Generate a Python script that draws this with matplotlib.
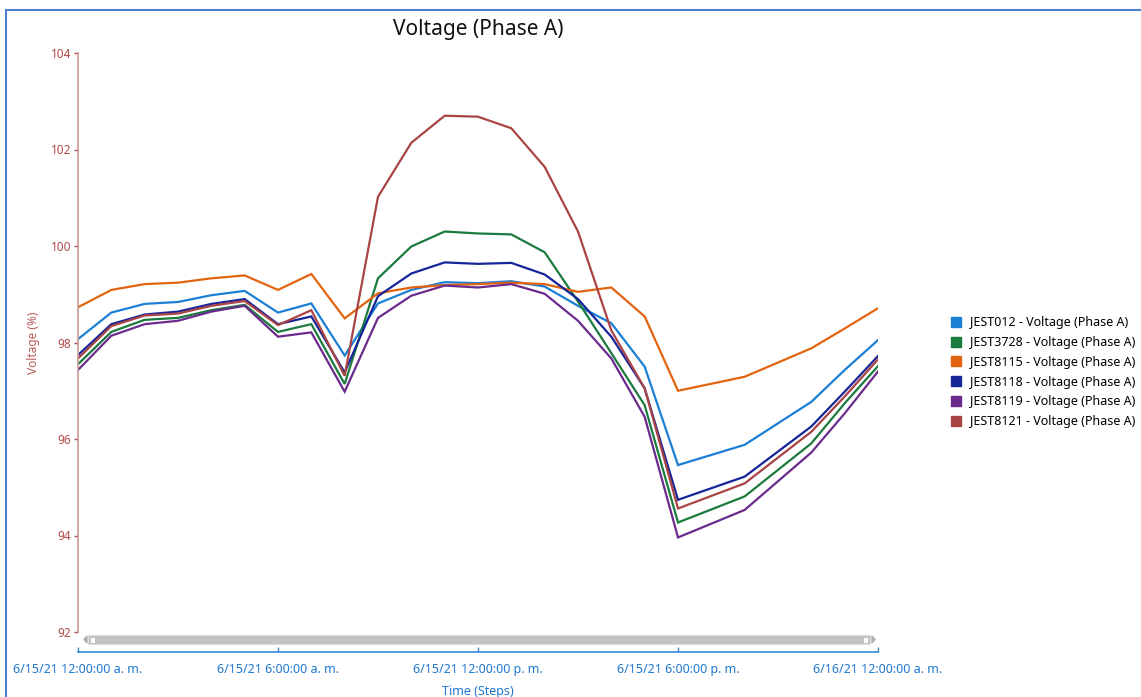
import matplotlib
matplotlib.use("Agg")
import matplotlib.pyplot as plt
from matplotlib.lines import Line2D
from matplotlib.patches import Rectangle, Polygon

plt.rcParams['font.family'] = ['Noto Sans', 'DejaVu Sans']

# hourly steps (no samples at 19h and 21h)
hours = [0, 1, 2, 3, 4, 5, 6, 7, 8, 9, 10, 11, 12, 13, 14, 15, 16, 17, 18, 20, 22, 23, 24]

jest012 = [98.07, 98.62, 98.80, 98.84, 98.98, 99.07, 98.62, 98.81, 97.73, 98.81, 99.09, 99.25,
           99.23, 99.27, 99.16, 98.76, 98.40, 97.50, 95.46, 95.88, 96.77, 97.43, 98.05]
jest3728 = [97.55, 98.22, 98.47, 98.51, 98.67, 98.78, 98.22, 98.38, 97.14, 99.33, 99.99, 100.30,
            100.26, 100.24, 99.87, 98.85, 97.78, 96.70, 94.27, 94.81, 95.91, 96.74, 97.51]
jest8115 = [98.73, 99.09, 99.21, 99.24, 99.33, 99.39, 99.09, 99.42, 98.50, 99.02, 99.14, 99.19,
            99.21, 99.24, 99.21, 99.05, 99.14, 98.54, 97.00, 97.29, 97.88, 98.29, 98.71]
jest8118 = [97.74, 98.38, 98.58, 98.64, 98.80, 98.90, 98.38, 98.54, 97.38, 98.96, 99.43, 99.66,
            99.63, 99.65, 99.41, 98.90, 98.12, 97.05, 94.74, 95.22, 96.26, 96.98, 97.72]
jest8119 = [97.43, 98.14, 98.38, 98.45, 98.64, 98.76, 98.12, 98.21, 96.98, 98.51, 98.97, 99.18,
            99.14, 99.21, 99.01, 98.45, 97.67, 96.46, 93.96, 94.53, 95.72, 96.53, 97.40]
jest8121 = [97.67, 98.34, 98.56, 98.60, 98.76, 98.86, 98.36, 98.67, 97.31, 101.02, 102.14, 102.70,
            102.68, 102.44, 101.64, 100.30, 98.25, 97.05, 94.56, 95.08, 96.15, 96.88, 97.65]

series_names = ['JEST012 - Voltage (Phase A)', 'JEST3728 - Voltage (Phase A)',
                'JEST8115 - Voltage (Phase A)', 'JEST8118 - Voltage (Phase A)',
                'JEST8119 - Voltage (Phase A)', 'JEST8121 - Voltage (Phase A)']
series_values = [jest012, jest3728, jest8115, jest8118, jest8119, jest8121]
colors = ['#1b7fd6', '#1b7a3e', '#e2640f', '#17259a', '#6b2b8c', '#aa4444']

xticks = [0, 6, 12, 18, 24]
xtick_labels = ['6/15/21 12:00:00 a. m.', '6/15/21 6:00:00 a. m.', '6/15/21 12:00:00 p. m.',
                '6/15/21 6:00:00 p. m.', '6/16/21 12:00:00 a. m.']
yticks = [92, 94, 96, 98, 100, 102, 104]

W, H = 1141, 697
fig = plt.figure(figsize=(W / 100, H / 100), dpi=100, facecolor='white')
ax = fig.add_axes([78 / W, 1 - 632 / H, 800 / W, 579 / H])

for name, vals, c in zip(series_names, series_values, colors):
    ax.plot(hours, vals, color=c, linewidth=1.6, label=name, solid_joinstyle='miter')

ax.set_xlim(0, 24)
ax.set_ylim(92, 104)

# spines
for s in ['top', 'right']:
    ax.spines[s].set_visible(False)
ax.spines['left'].set_color('#cc9a9a')
ax.spines['left'].set_linewidth(1.2)
ax.spines['bottom'].set_position(('outward', 14.5))
ax.spines['bottom'].set_color('#3a8ad8')
ax.spines['bottom'].set_linewidth(1.2)

ax.set_yticks(yticks)
ax.tick_params(axis='y', direction='out', length=3, width=1, color='#b04a4a',
               labelcolor='#b04a4a', labelsize=8.5, pad=2)
ax.set_xticks(xticks)
ax.set_xticklabels(xtick_labels)
ax.tick_params(axis='x', direction='in', length=3.5, width=1, color='#3a8ad8',
               labelcolor='#1f78d0', labelsize=9, pad=8)

ax.set_title('Voltage (Phase A)', fontsize=15, color='#111111', pad=13)
fig.text(33 / W, 1 - 343 / H, 'Voltage (%)', rotation=90, ha='center', va='center',
         color='#b85a5a', fontsize=8.5)
fig.text(478 / W, 1 - 692 / H, 'Time (Steps)', ha='center', va='center',
         color='#1f78d0', fontsize=9)

# scroll bar under the plot
fig.add_artist(Rectangle((88 / W, 1 - 644 / H), 782 / W, 9 / H, transform=fig.transFigure,
                         facecolor='#c4c4c4', edgecolor='#dddddd', lw=0.8))
fig.add_artist(Rectangle((90 / W, 1 - 642.5 / H), 5 / W, 6 / H, transform=fig.transFigure,
                         facecolor='white', edgecolor='#bbbbbb', lw=0.6))
fig.add_artist(Rectangle((863 / W, 1 - 642.5 / H), 5 / W, 6 / H, transform=fig.transFigure,
                         facecolor='white', edgecolor='#bbbbbb', lw=0.6))
fig.add_artist(Polygon([(84 / W, 1 - 639.5 / H), (87 / W, 1 - 636 / H), (87 / W, 1 - 643 / H)],
                       closed=True, transform=fig.transFigure, color='#b0b0b0'))
fig.add_artist(Polygon([(875 / W, 1 - 639.5 / H), (872 / W, 1 - 636 / H), (872 / W, 1 - 643 / H)],
                       closed=True, transform=fig.transFigure, color='#b0b0b0'))

# outer frame
fig.add_artist(Line2D([6 / W, 1], [1 - 9.5 / H, 1 - 9.5 / H], transform=fig.transFigure,
                      color='#4a7fd2', lw=1.5))
fig.add_artist(Line2D([6 / W, 6 / W], [0, 1 - 9.5 / H], transform=fig.transFigure,
                      color='#4a7fd2', lw=1.5))

handles = [Line2D([], [], marker='s', linestyle='none', markersize=7.5, color=c,
                  markeredgecolor=c) for c in colors]
fig.legend(handles, series_names, loc='upper left', bbox_to_anchor=(950 / W, 1 - 316 / H),
           frameon=False, fontsize=9, labelspacing=0.55, handletextpad=0.6,
           handlelength=1.0, borderpad=0, borderaxespad=0)

fig.savefig('out.png', dpi=100, facecolor='white')
